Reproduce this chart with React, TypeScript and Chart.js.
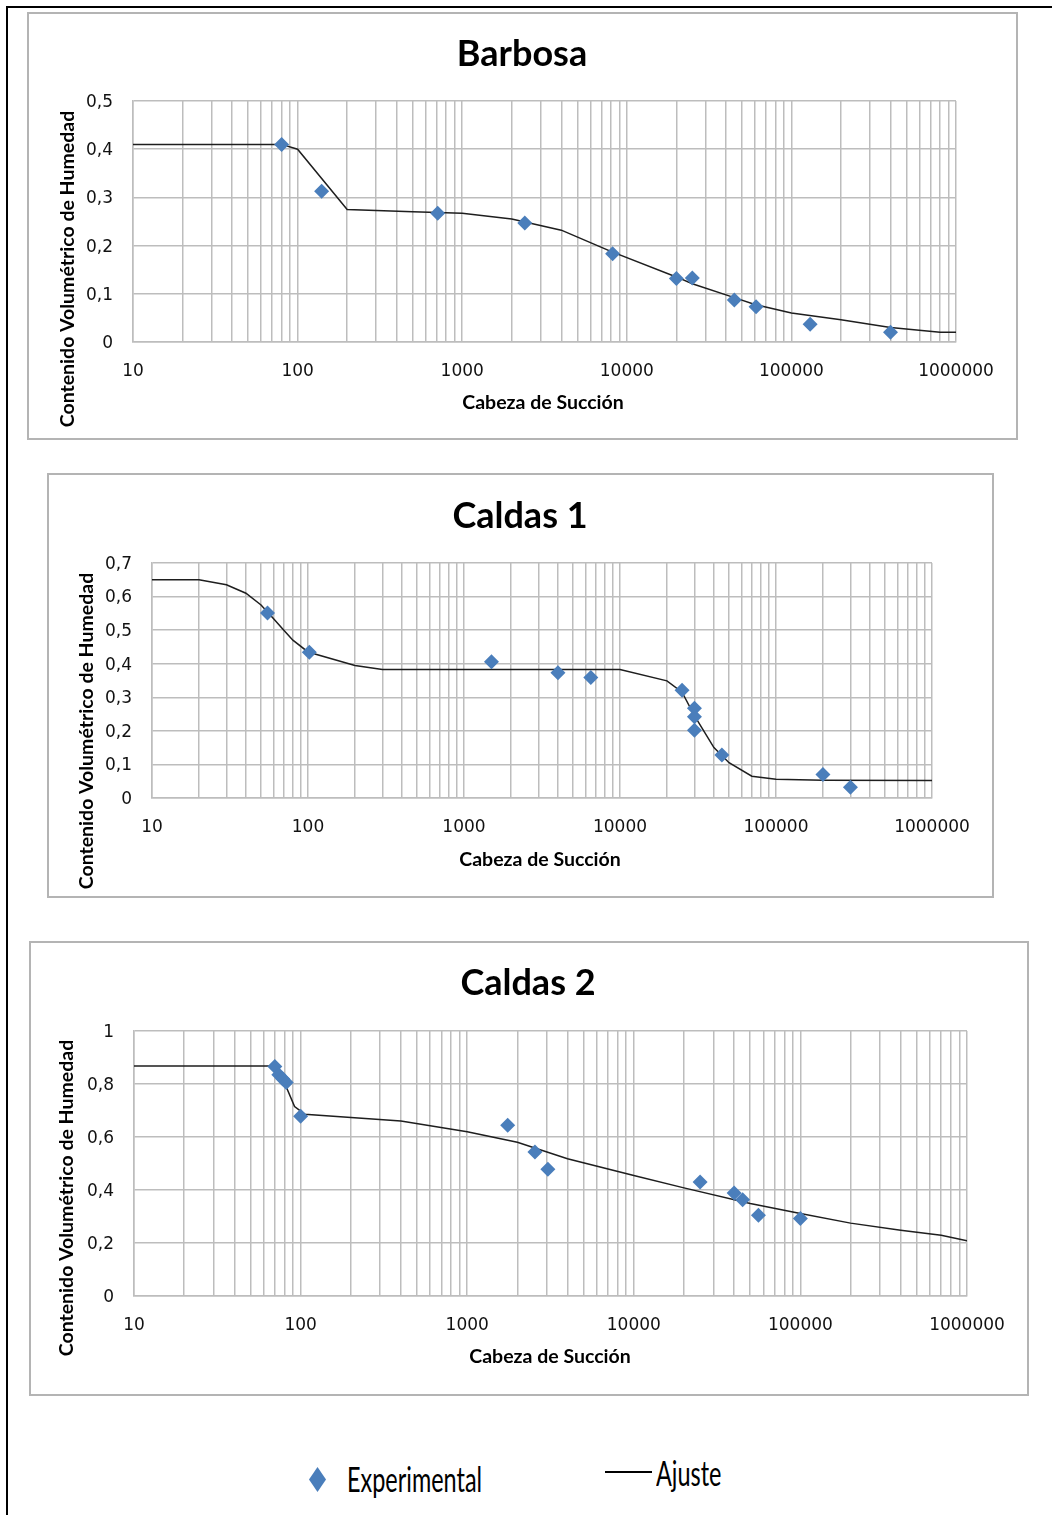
import { useEffect, useRef } from 'react';
import { Chart, registerables } from 'chart.js';

Chart.register(...registerables);

// Suction head axis (logarithmic): labelled decades and the minor steps inside each decade
const SUCTION_DECADES = [10, 100, 1000, 10000, 100000, 1000000];
const DECADE_STEPS = [1, 2, 3, 4, 5, 6, 7, 8, 9];

// Barbosa
const BARBOSA_Y_TICKS = [0, 0.1, 0.2, 0.3, 0.4, 0.5];
const BARBOSA_SUCTION = [80, 140, 710, 2400, 8200, 20000, 25000, 45000, 61000, 130000, 400000];
const BARBOSA_MOISTURE = [0.41, 0.313, 0.267, 0.247, 0.183, 0.132, 0.133, 0.087, 0.073, 0.037, 0.02];
const BARBOSA_FIT_SUCTION = [10, 80, 100, 200, 500, 1000, 2000, 4000, 8000, 20000, 25000, 45000, 60000, 100000, 200000, 400000, 800000, 1000000];
const BARBOSA_FIT_MOISTURE = [0.41, 0.41, 0.4, 0.275, 0.27, 0.267, 0.255, 0.232, 0.188, 0.135, 0.121, 0.092, 0.078, 0.06, 0.046, 0.03, 0.02, 0.02];

// Caldas 1
const CALDAS1_Y_TICKS = [0, 0.1, 0.2, 0.3, 0.4, 0.5, 0.6, 0.7];
const CALDAS1_SUCTION = [55, 102, 1500, 4000, 6500, 25000, 30000, 30000, 30000, 45000, 200000, 300000];
const CALDAS1_MOISTURE = [0.551, 0.434, 0.406, 0.373, 0.359, 0.321, 0.267, 0.242, 0.202, 0.128, 0.07, 0.032];
const CALDAS1_FIT_SUCTION = [10, 20, 30, 40, 50, 60, 70, 80, 100, 200, 300, 1000, 10000, 20000, 25000, 30000, 40000, 50000, 70000, 100000, 200000, 1000000];
const CALDAS1_FIT_MOISTURE = [0.65, 0.65, 0.635, 0.61, 0.575, 0.535, 0.5, 0.47, 0.435, 0.395, 0.383, 0.383, 0.383, 0.349, 0.315, 0.245, 0.15, 0.105, 0.065, 0.056, 0.053, 0.052];

// Caldas 2
const CALDAS2_Y_TICKS = [0, 0.2, 0.4, 0.6, 0.8, 1];
const CALDAS2_SUCTION = [70, 74, 78, 82, 100, 1750, 2550, 3050, 25000, 40000, 45000, 56000, 100000];
const CALDAS2_MOISTURE = [0.866, 0.835, 0.82, 0.806, 0.678, 0.644, 0.543, 0.478, 0.43, 0.389, 0.363, 0.305, 0.292];
const CALDAS2_FIT_SUCTION = [10, 65, 80, 92, 106, 400, 1000, 2000, 4000, 10000, 20000, 50000, 100000, 200000, 400000, 700000, 1000000];
const CALDAS2_FIT_MOISTURE = [0.868, 0.868, 0.805, 0.715, 0.686, 0.66, 0.62, 0.58, 0.518, 0.455, 0.408, 0.349, 0.311, 0.275, 0.248, 0.229, 0.208];

const X_TITLE = 'Cabeza de Succión';
const Y_TITLE = 'Contenido Volumétrico de Humedad';
const LEGEND_POINTS = 'Experimental';
const LEGEND_LINE = 'Ajuste';

const MARKER_BLUE = '#4a7ebb';
const FIT_COLOR = '#1e1e1e';
const GRID_COLOR = '#bdbdbd';
const TICK_FONT = { family: '"DejaVu Sans", Verdana, sans-serif', size: 17 };

const X_GRID = SUCTION_DECADES.slice(0, -1)
  .flatMap((d) => DECADE_STEPS.map((k) => d * k))
  .concat(SUCTION_DECADES[SUCTION_DECADES.length - 1]);

type Rect = { x: number; y: number; w: number; h: number };
type Panel = {
  title: string;
  box: Rect;
  plot: { l: number; t: number; r: number; b: number };
  titleAt: [number, number];
  xTitleAt: [number, number];
  yTitleAt: [number, number];
  yTicks: number[];
  suction: number[];
  moisture: number[];
  fitSuction: number[];
  fitMoisture: number[];
};

const PANELS: Panel[] = [
  {
    title: 'Barbosa',
    box: { x: 27, y: 12, w: 991, h: 428 },
    plot: { l: 133, t: 101, r: 956, b: 342 },
    titleAt: [522, 54],
    xTitleAt: [543, 403],
    yTitleAt: [68, 269],
    yTicks: BARBOSA_Y_TICKS,
    suction: BARBOSA_SUCTION,
    moisture: BARBOSA_MOISTURE,
    fitSuction: BARBOSA_FIT_SUCTION,
    fitMoisture: BARBOSA_FIT_MOISTURE,
  },
  {
    title: 'Caldas 1',
    box: { x: 47, y: 473, w: 947, h: 425 },
    plot: { l: 152, t: 563, r: 932, b: 798 },
    titleAt: [520, 516],
    xTitleAt: [540, 860],
    yTitleAt: [87, 731],
    yTicks: CALDAS1_Y_TICKS,
    suction: CALDAS1_SUCTION,
    moisture: CALDAS1_MOISTURE,
    fitSuction: CALDAS1_FIT_SUCTION,
    fitMoisture: CALDAS1_FIT_MOISTURE,
  },
  {
    title: 'Caldas 2',
    box: { x: 29, y: 941, w: 1000, h: 455 },
    plot: { l: 134, t: 1031, r: 967, b: 1296 },
    titleAt: [528, 983],
    xTitleAt: [550, 1357],
    yTitleAt: [67, 1198],
    yTicks: CALDAS2_Y_TICKS,
    suction: CALDAS2_SUCTION,
    moisture: CALDAS2_MOISTURE,
    fitSuction: CALDAS2_FIT_SUCTION,
    fitMoisture: CALDAS2_FIT_MOISTURE,
  },
];

const zip = (xs: number[], ys: number[]) => xs.map((x, i) => ({ x, y: ys[i] }));

const decimalComma = (v: number) => String(Number(v.toFixed(2))).replace('.', ',');

function SoilChart({ panel }: { panel: Panel }) {
  const ref = useRef<HTMLCanvasElement>(null);

  useEffect(() => {
    const { box, plot } = panel;
    const yAxisWidth = plot.l - box.x;
    const xAxisHeight = box.y + box.h - plot.b;

    // titles drawn at fixed spots inside the panel
    const panelText = {
      id: 'panelText',
      afterDraw(chart: Chart) {
        const ctx = chart.ctx;
        ctx.save();
        ctx.fillStyle = '#000';
        ctx.textAlign = 'center';
        ctx.textBaseline = 'middle';
        ctx.font = 'bold 36px Lato, sans-serif';
        ctx.fillText(panel.title, panel.titleAt[0] - box.x, panel.titleAt[1] - box.y);
        ctx.font = 'bold 19.5px Lato, sans-serif';
        ctx.fillText(X_TITLE, panel.xTitleAt[0] - box.x, panel.xTitleAt[1] - box.y);
        ctx.translate(panel.yTitleAt[0] - box.x, panel.yTitleAt[1] - box.y);
        ctx.rotate(-Math.PI / 2);
        ctx.fillText(Y_TITLE, 0, 0);
        ctx.restore();
      },
    };

    const chart = new Chart(ref.current as HTMLCanvasElement, {
      type: 'scatter',
      data: {
        datasets: [
          {
            label: LEGEND_POINTS,
            data: zip(panel.suction, panel.moisture),
            pointStyle: 'rectRot',
            pointRadius: 7.5,
            pointBackgroundColor: MARKER_BLUE,
            pointBorderColor: MARKER_BLUE,
            pointBorderWidth: 0,
            showLine: false,
          },
          {
            label: LEGEND_LINE,
            data: zip(panel.fitSuction, panel.fitMoisture),
            showLine: true,
            pointRadius: 0,
            borderColor: FIT_COLOR,
            borderWidth: 1.5,
            tension: 0,
            fill: false,
          },
        ],
      },
      options: {
        animation: false,
        responsive: false,
        maintainAspectRatio: false,
        events: [],
        layout: {
          padding: { top: plot.t - box.y, right: box.x + box.w - plot.r, bottom: 0, left: 0 },
        },
        plugins: {
          legend: { display: false },
          tooltip: { enabled: false },
          title: { display: false },
        },
        scales: {
          x: {
            type: 'logarithmic',
            position: 'bottom',
            min: SUCTION_DECADES[0],
            max: SUCTION_DECADES[SUCTION_DECADES.length - 1],
            afterBuildTicks: (s: any) => {
              s.ticks = X_GRID.map((v) => ({ value: v }));
            },
            afterFit: (s: any) => {
              s.height = xAxisHeight;
              s.paddingLeft = 0;
              s.paddingRight = 0;
            },
            ticks: {
              autoSkip: false,
              maxRotation: 0,
              minRotation: 0,
              padding: 19,
              color: '#111',
              font: TICK_FONT,
              callback: (v: any) => (SUCTION_DECADES.includes(Number(v)) ? String(v) : ''),
            },
            grid: { color: GRID_COLOR, lineWidth: 1.5, drawTicks: false },
            border: { color: GRID_COLOR, width: 1.5 },
          },
          y: {
            type: 'linear',
            position: 'left',
            min: panel.yTicks[0],
            max: panel.yTicks[panel.yTicks.length - 1],
            afterBuildTicks: (s: any) => {
              s.ticks = panel.yTicks.map((v) => ({ value: v }));
            },
            afterFit: (s: any) => {
              s.width = yAxisWidth;
              s.paddingTop = 0;
              s.paddingBottom = 0;
            },
            ticks: {
              padding: 20,
              labelOffset: 1.5,
              color: '#111',
              font: TICK_FONT,
              callback: (v: any) => decimalComma(Number(v)),
            },
            grid: { color: GRID_COLOR, lineWidth: 1.5, drawTicks: false },
            border: { color: GRID_COLOR, width: 1.5 },
          },
        },
      },
      plugins: [panelText],
    } as any);

    return () => chart.destroy();
  }, [panel]);

  const { box } = panel;
  return (
    <>
      <div
        style={{
          position: 'absolute',
          left: box.x,
          top: box.y,
          width: box.w,
          height: box.h,
          boxSizing: 'border-box',
          border: '2px solid #b4b4b4',
          background: '#fff',
        }}
      />
      <canvas
        ref={ref}
        width={box.w}
        height={box.h}
        style={{ position: 'absolute', left: box.x, top: box.y, width: box.w, height: box.h }}
      />
    </>
  );
}

const legendText: React.CSSProperties = {
  position: 'absolute',
  fontFamily: 'Lato, sans-serif',
  fontSize: 35,
  lineHeight: '35px',
  color: '#000',
  transform: 'scaleX(0.67)',
  transformOrigin: 'left center',
  whiteSpace: 'nowrap',
};

export default function App() {
  return (
    <div
      style={{
        position: 'absolute',
        left: 0,
        top: 0,
        width: 1052,
        height: 1515,
        background: '#fff',
        overflow: 'hidden',
      }}
    >
      <div style={{ position: 'absolute', left: 6, top: 6, width: 1046, height: 2, background: '#000' }} />
      <div style={{ position: 'absolute', left: 6, top: 6, width: 2, height: 1509, background: '#000' }} />
      {PANELS.map((p) => (
        <SoilChart key={p.title} panel={p} />
      ))}
      <div
        style={{
          position: 'absolute',
          left: 309,
          top: 1467,
          width: 17,
          height: 25,
          background: MARKER_BLUE,
          clipPath: 'polygon(50% 0, 100% 50%, 50% 100%, 0 50%)',
        }}
      />
      <span style={{ ...legendText, left: 347, top: 1461 }}>{LEGEND_POINTS}</span>
      <div style={{ position: 'absolute', left: 605, top: 1471, width: 47, height: 2, background: '#000' }} />
      <span style={{ ...legendText, left: 656, top: 1455 }}>{LEGEND_LINE}</span>
    </div>
  );
}
